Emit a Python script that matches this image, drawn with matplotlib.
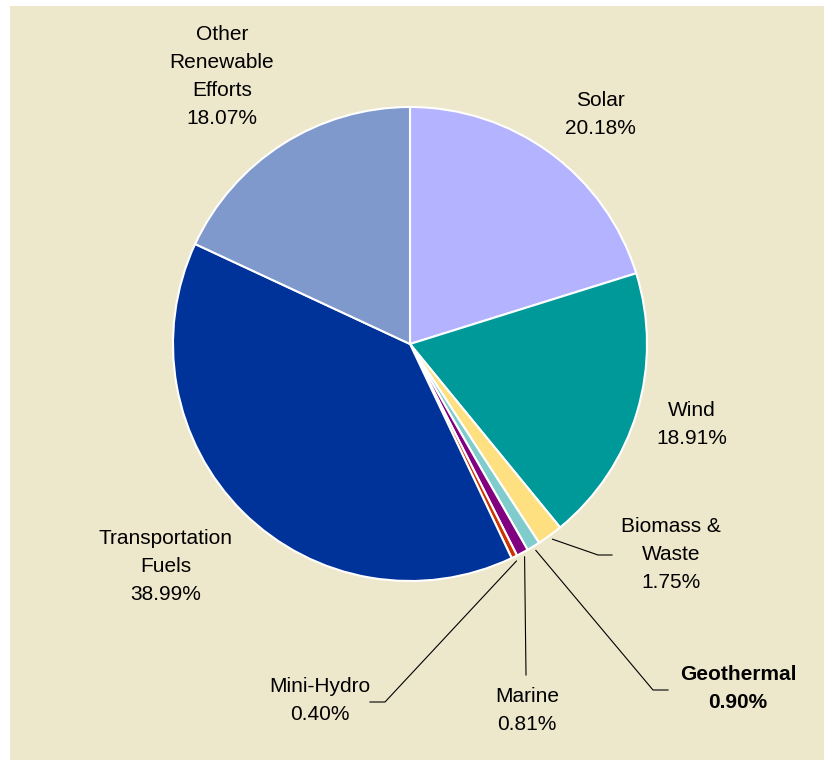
import numpy as np
import matplotlib
matplotlib.use('Agg')
import matplotlib.pyplot as plt
from matplotlib.patches import Rectangle

# ----- DATA -------------
labels = ['Solar', 'Wind', 'Biomass &\nWaste', 'Geothermal', 'Marine',
          'Mini-Hydro', 'Transportation\nFuels', 'Other\nRenewable\nEfforts']
shares = [20.18, 18.91, 1.75, 0.90, 0.81, 0.40, 38.99, 18.07]
colors = ['#B3B3FF', '#009999', '#FFE080', '#80CCCC', '#800080',
          '#CC3300', '#003399', '#7F99CC']

# ----- LAYOUT (pixel coords, y downwards) -------------
W, H = 824, 761
cx, cy, R = 410, 344, 237
# label centres
label_pos = [(600, 114), (692, 425), (671, 554), (738, 689), (527, 710),
             (320, 701), (166, 566), (222, 76)]
# elbow points of leader lines (None = no leader)
elbows = [None, None, (598, 555), (653, 690), (526, 675), (385, 702), None, None]
line_ends = [None, None, 612, 668, 526, 370, None, None]
bold = [False, False, False, True, False, False, False, False]

plt.rcParams['font.family'] = ['Liberation Sans', 'DejaVu Sans']

fig = plt.figure(figsize=(W / 100, H / 100), dpi=100)
fig.patch.set_facecolor('white')
ax = fig.add_axes([0, 0, 1, 1])

ax.add_patch(Rectangle((10, 6), W - 10, 754, facecolor='#EDE7CC',
                       edgecolor='none', zorder=0))

# y axis is inverted, so counterclock in data = clockwise on screen
wedges, _ = ax.pie(shares, colors=colors, center=(cx, cy), radius=R,
                   startangle=-90, counterclock=True, frame=True,
                   wedgeprops=dict(edgecolor='white', linewidth=1.5))
ax.set_xlim(0, W)
ax.set_ylim(H, 0)
ax.axis('off')

for i, w in enumerate(wedges):
    txt = f'{labels[i]}\n{shares[i]:.2f}%'
    lx, ly = label_pos[i]
    ax.text(lx, ly, txt, ha='center', va='center', fontsize=15,
            linespacing=1.6, fontweight='bold' if bold[i] else 'normal',
            color='black', zorder=5)
    if elbows[i] is not None:
        ang = np.deg2rad((w.theta1 + w.theta2) / 2)
        sx = cx + R * 1.02 * np.cos(ang)
        sy = cy + R * 1.02 * np.sin(ang)
        ex, ey = elbows[i]
        ax.plot([sx, ex, line_ends[i]], [sy, ey, ey], color='black',
                lw=0.8, zorder=4)

fig.savefig('out.png', dpi=100, facecolor='white')
